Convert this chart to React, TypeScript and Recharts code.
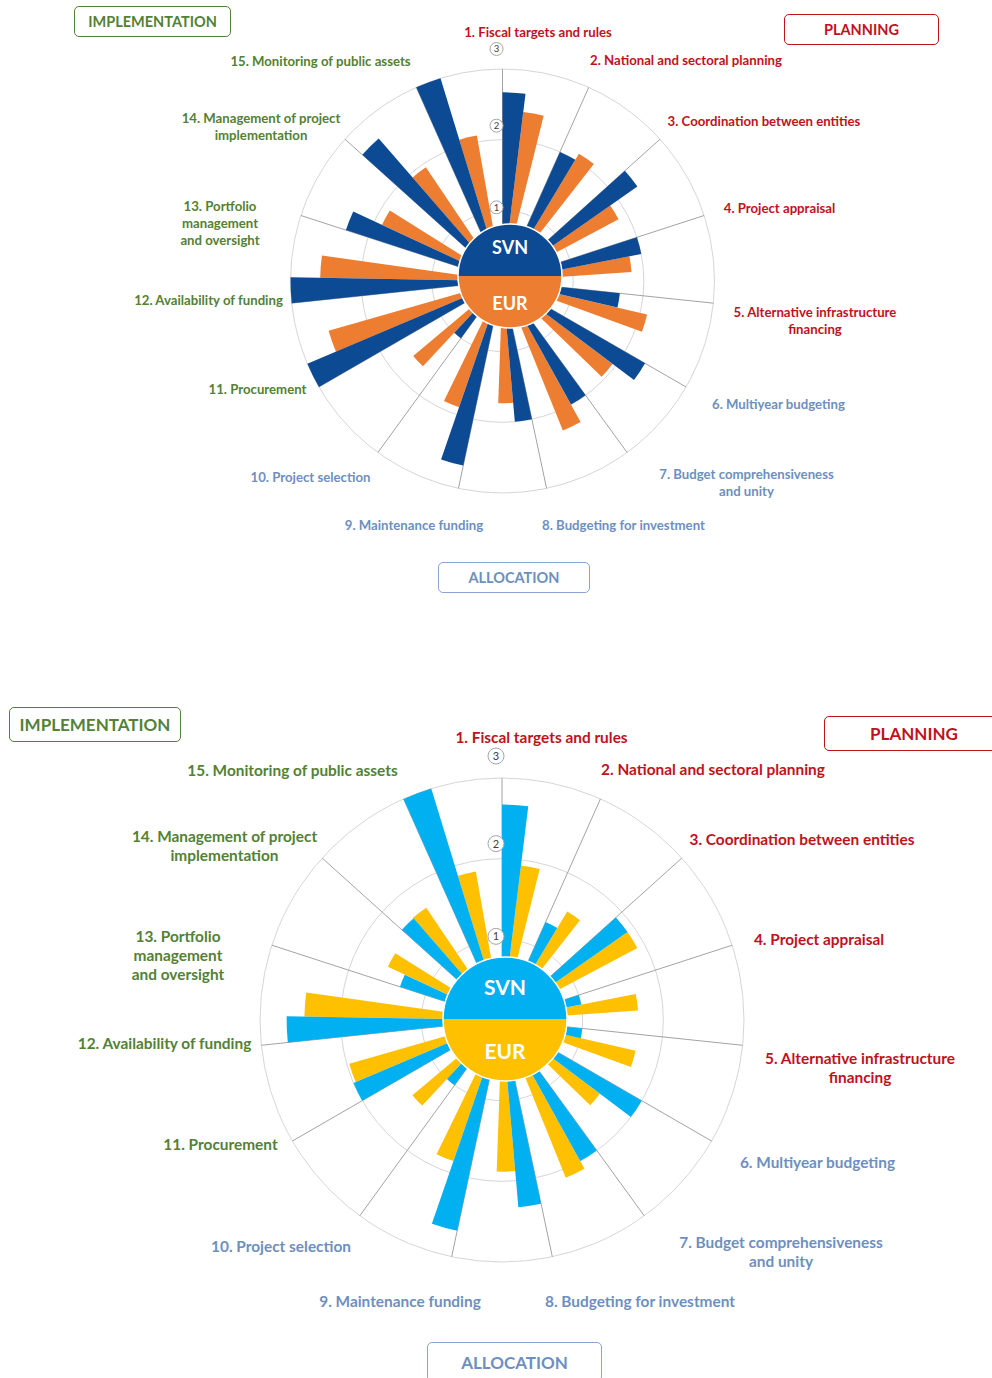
import React from 'react';
import { RadialBarChart, RadialBar, PolarGrid, PolarAngleAxis, PolarRadiusAxis } from 'recharts';

// ---------- DATA ----------
const categories: string[] = [
  '1. Fiscal targets and rules',
  '2. National and sectoral planning',
  '3. Coordination between entities',
  '4. Project appraisal',
  '5. Alternative infrastructure financing',
  '6. Multiyear budgeting',
  '7. Budget comprehensiveness and unity',
  '8. Budgeting for investment',
  '9. Maintenance funding',
  '10. Project selection',
  '11. Procurement',
  '12. Availability of funding',
  '13. Portfolio management and oversight',
  '14. Management of project implementation',
  '15. Monitoring of public assets',
];
const categoryLines: string[][] = [
  ['1. Fiscal targets and rules'],
  ['2. National and sectoral planning'],
  ['3. Coordination between entities'],
  ['4. Project appraisal'],
  ['5. Alternative infrastructure', 'financing'],
  ['6. Multiyear budgeting'],
  ['7. Budget comprehensiveness', 'and unity'],
  ['8. Budgeting for investment'],
  ['9. Maintenance funding'],
  ['10. Project selection'],
  ['11. Procurement'],
  ['12. Availability of funding'],
  ['13. Portfolio', 'management', 'and oversight'],
  ['14. Management of project', 'implementation'],
  ['15. Monitoring of public assets'],
];
const categoryGroup: number[] = [0, 0, 0, 0, 0, 1, 1, 1, 1, 1, 2, 2, 2, 2, 2];
const groupNames: string[] = ['PLANNING', 'ALLOCATION', 'IMPLEMENTATION'];
const seriesNames: string[] = ['SVN', 'EUR'];
const radiusTicks: number[] = [0, 1, 2, 3];

const svnTop: number[] = [2.67, 2.0, 2.33, 2.0, 1.67, 2.33, 2.0, 2.0, 2.67, 1.0, 3.0, 3.0, 2.33, 2.67, 3.0];
const eurTop: number[] = [2.41, 2.1, 1.86, 1.83, 2.1, 1.95, 2.28, 1.73, 1.89, 1.65, 2.56, 2.58, 1.88, 1.94, 2.09];
const svnBottom: number[] = [2.67, 1.33, 1.9, 1.0, 1.0, 2.0, 2.0, 2.33, 2.67, 1.0, 2.0, 2.67, 1.33, 1.67, 3.0];
const eurBottom: number[] = [1.93, 1.57, 1.9, 1.69, 1.7, 1.52, 2.11, 1.88, 1.85, 1.45, 1.97, 2.45, 1.56, 1.68, 1.87];

// ---------- STYLE / LAYOUT ----------
const FONT = 'Lato, "Open Sans", sans-serif';
const groupColors = ['#C0121C', '#6E8FBE', '#538135'];
const groupBorder = ['#C0121C', '#8AA6CD', '#538135'];

type Layout = {
  top: number; height: number; cx: number; cy: number; r: number;
  svnColor: string; eurColor: string; fontSize: number; lineH: number;
  labels: [number, number][];
  tickDy: number[]; badgeR: number; badgeFont: number;
  center: { x: number; y: number; r: number; font: number; dy: number };
  boxes: { x: number; y: number; w: number; h: number; font: number }[]; // planning, allocation, implementation
};

const topLayout: Layout = {
  top: 0, height: 689, cx: 502.5, cy: 281, r: 212,
  svnColor: '#0C4A93', eurColor: '#ED7D31', fontSize: 13.2, lineH: 17,
  labels: [[538, 32], [686, 60], [764, 121], [779.5, 208], [815, 321], [778.5, 404], [746.5, 482.5], [623.5, 525], [414, 525], [310.5, 477], [257.5, 389], [208.5, 300], [220, 223], [261, 126.5], [320.5, 61]],
  tickDy: [0, -3, -14, -20], badgeR: 6.5, badgeFont: 9.5,
  center: { x: 510, y: 276, r: 52, font: 18, dy: 28 },
  boxes: [
    { x: 784, y: 14, w: 155, h: 31, font: 14.5 },
    { x: 438, y: 562, w: 152, h: 31, font: 14.5 },
    { x: 74, y: 6, w: 157, h: 31, font: 14.5 },
  ],
};

const bottomLayout: Layout = {
  top: 689, height: 689, cx: 502, cy: 331, r: 242,
  svnColor: '#00B0F0', eurColor: '#FFC000', fontSize: 15.4, lineH: 19,
  labels: [[541.5, 737], [713, 769], [802, 839], [819, 939], [860, 1067.5], [817.5, 1162], [781, 1251.5], [640, 1301], [400, 1301], [281, 1246], [220.5, 1144], [164.5, 1043], [178, 955], [224.5, 845.5], [292.5, 770]],
  tickDy: [0, -3, -15, -22], badgeR: 8, badgeFont: 11,
  center: { x: 505, y: 1018.5, r: 62, font: 21, dy: 32 },
  boxes: [
    { x: 824, y: 716, w: 180, h: 35, font: 17 },
    { x: 427, y: 1342, w: 175, h: 40, font: 17 },
    { x: 9, y: 707, w: 172, h: 35, font: 17 },
  ],
};

const RadiusTick = (props: any) => {
  const { x, y, payload, L } = props;
  const v = payload ? payload.value : 0;
  if (!v) return <g />;
  const dy = L.tickDy[v] ?? 0;
  return (
    <g transform={`translate(${x - 6},${y + dy})`}>
      <circle r={L.badgeR} fill="#ffffff" stroke="#a6a6a6" strokeWidth={1} />
      <text x={0} y={0} dy={L.badgeFont * 0.36} textAnchor="middle" fontSize={L.badgeFont} fill="#404040" fontFamily={FONT}>
        {v}
      </text>
    </g>
  );
};

function Panel({ svn, eur, L }: { svn: number[]; eur: number[]; L: Layout }) {
  const data = categories.map((name, i) => ({ name, svn: svn[i], eur: eur[i] }));
  const step = 360 / categories.length;
  const gapPct = 0.2083;
  // bars of each category sit right after its (clockwise) boundary spoke
  const start = 90 + step * gapPct - step;
  const spokeAngles = categories.map((_, i) => 90 - i * step);
  const C = L.center;
  return (
    <>
      <div style={{ position: 'absolute', left: 0, top: L.top, width: 992, height: L.height }}>
        <RadialBarChart
          width={992}
          height={L.height}
          data={data}
          cx={L.cx}
          cy={L.cy}
          innerRadius={0}
          outerRadius={L.r}
          startAngle={start}
          endAngle={start - 360}
          barCategoryGap={`${gapPct * 100}%`}
          barGap={0}
          layout="centric"
          margin={{ top: 0, right: 0, bottom: 0, left: 0 }}
        >
          <PolarGrid gridType="circle" radialLines={false} stroke="#d6d6d6" strokeWidth={1} />
          <PolarGrid gridType="circle" polarAngles={spokeAngles} polarRadius={[]} stroke="#a3a3a3" strokeWidth={1} />
          <PolarAngleAxis type="category" dataKey="name" tick={false} axisLine={false} tickLine={false} />
          <PolarRadiusAxis
            type="number"
            domain={[0, 3]}
            ticks={radiusTicks as any}
            tickCount={4}
            angle={90}
            axisLine={false}
            tick={(p: any) => <RadiusTick {...p} L={L} />}
          />
          <RadialBar dataKey="eur" name={seriesNames[1]} fill={L.eurColor} isAnimationActive={false} />
          <RadialBar dataKey="svn" name={seriesNames[0]} fill={L.svnColor} isAnimationActive={false} />
        </RadialBarChart>
      </div>
      {/* center SVN / EUR disc */}
      <svg
        style={{ position: 'absolute', left: C.x - C.r - 2, top: C.y - C.r - 2 }}
        width={C.r * 2 + 4}
        height={C.r * 2 + 4}
      >
        <g transform={`translate(${C.r + 2},${C.r + 2})`}>
          <path d={`M ${-C.r} 0 A ${C.r} ${C.r} 0 0 1 ${C.r} 0 Z`} fill={L.svnColor} />
          <path d={`M ${-C.r} 0 A ${C.r} ${C.r} 0 0 0 ${C.r} 0 Z`} fill={L.eurColor} />
          <circle r={C.r} fill="none" stroke="#ffffff" strokeWidth={1.5} />
          <text x={0} y={-C.dy + C.font * 0.36} textAnchor="middle" fontSize={C.font} fontWeight={700} fill="#ffffff" fontFamily={FONT}>
            {seriesNames[0]}
          </text>
          <text x={0} y={C.dy + C.font * 0.36} textAnchor="middle" fontSize={C.font} fontWeight={700} fill="#ffffff" fontFamily={FONT}>
            {seriesNames[1]}
          </text>
        </g>
      </svg>
      {/* category labels */}
      {categoryLines.map((lines, i) => (
        <div
          key={i}
          style={{
            position: 'absolute',
            left: L.labels[i][0],
            top: L.labels[i][1],
            transform: 'translate(-50%, -50%)',
            whiteSpace: 'nowrap',
            textAlign: 'center',
            fontFamily: FONT,
            fontWeight: 700,
            fontSize: L.fontSize,
            lineHeight: `${L.lineH}px`,
            color: groupColors[categoryGroup[i]],
          }}
        >
          {lines.map((ln, j) => (
            <div key={j}>{ln}</div>
          ))}
        </div>
      ))}
      {/* group boxes */}
      {groupNames.map((g, k) => {
        const b = L.boxes[k];
        return (
          <div
            key={g}
            style={{
              position: 'absolute',
              left: b.x,
              top: b.y,
              width: b.w,
              height: b.h,
              boxSizing: 'border-box',
              border: `1.5px solid ${groupBorder[k]}`,
              borderRadius: 5,
              display: 'flex',
              alignItems: 'center',
              justifyContent: 'center',
              fontFamily: FONT,
              fontWeight: 700,
              fontSize: b.font,
              color: groupColors[k],
              background: '#ffffff',
            }}
          >
            {g}
          </div>
        );
      })}
    </>
  );
}

export default function App() {
  return (
    <div style={{ position: 'absolute', left: 0, top: 0, width: 992, height: 1378, overflow: 'hidden', background: '#ffffff' }}>
      <Panel svn={svnTop} eur={eurTop} L={topLayout} />
      <Panel svn={svnBottom} eur={eurBottom} L={bottomLayout} />
    </div>
  );
}
